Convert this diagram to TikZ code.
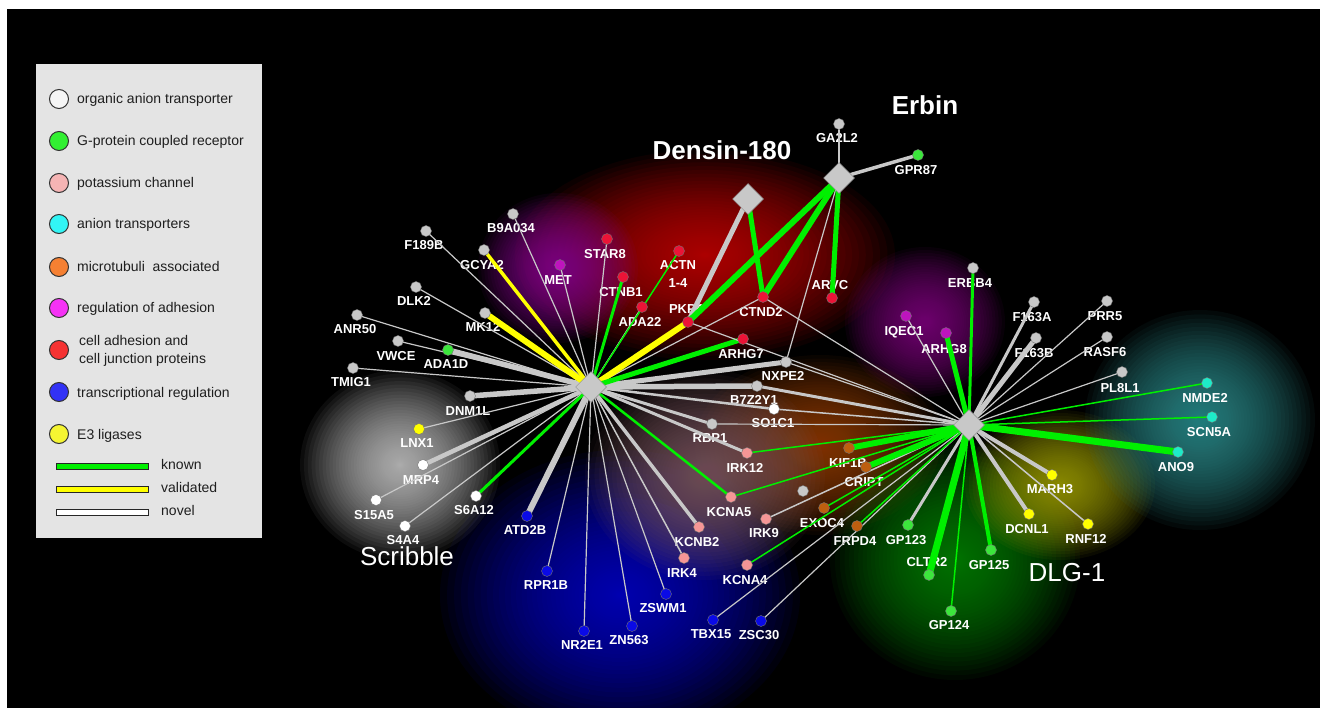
\documentclass[tikz,border=0pt]{standalone}
\usepackage{fontspec}
\setmainfont{Liberation Sans}
\usetikzlibrary{shapes.geometric}
\pgfdeclarelayer{glowlayer}
\pgfdeclarelayer{lablayer}
\pgfdeclarelayer{edgelayer}
\pgfsetlayers{glowlayer,lablayer,edgelayer,main}
\definecolor{ngray}{RGB}{200,200,200}
\definecolor{nred}{RGB}{235,20,55}
\definecolor{npurple}{RGB}{190,20,190}
\definecolor{npink}{RGB}{245,150,150}
\definecolor{nblue}{RGB}{10,10,230}
\definecolor{nyellow}{RGB}{255,255,0}
\definecolor{ngreen}{RGB}{60,230,60}
\definecolor{norange}{RGB}{190,95,15}
\definecolor{ncyan}{RGB}{30,235,200}
\definecolor{egreen}{RGB}{0,240,0}
\definecolor{eyellow}{RGB}{255,255,0}
\definecolor{egray}{RGB}{200,200,200}
\definecolor{leggray}{RGB}{228,228,228}
\definecolor{legtext}{RGB}{30,30,30}
\definecolor{lwhite}{RGB}{245,245,245}
\definecolor{lgreen}{RGB}{50,240,50}
\definecolor{lpink}{RGB}{245,180,180}
\definecolor{lcyan}{RGB}{50,245,245}
\definecolor{lorange}{RGB}{245,128,50}
\definecolor{lmagenta}{RGB}{245,50,245}
\definecolor{lred}{RGB}{245,50,50}
\definecolor{lblue}{RGB}{50,50,245}
\definecolor{lyellow}{RGB}{245,245,50}
\definecolor{g1}{RGB}{0,0,190}
\definecolor{g2}{RGB}{185,0,0}
\definecolor{g3}{RGB}{130,0,140}
\definecolor{g4}{RGB}{120,0,120}
\definecolor{g5}{RGB}{140,60,0}
\definecolor{g6}{RGB}{120,85,95}
\definecolor{g7}{RGB}{185,185,185}
\definecolor{g8}{RGB}{0,125,0}
\definecolor{g9}{RGB}{150,150,0}
\definecolor{g10}{RGB}{45,135,135}
\newcommand\glowat[5]{\foreach \k in {1,...,50}{\fill[#1,fill opacity=0.065] (#2,#3) ellipse [x radius={#4pt*(\k/50)^2}, y radius={#5pt*(\k/50)^2}];}}
\begin{document}
\begin{tikzpicture}[x=1pt,y=-1pt,
  gn/.style={circle,fill=#1,draw=black!55,line width=0.4pt,minimum size=11pt,inner sep=0pt},
  lbl/.style={text=white,font=\bfseries\fontsize{13}{13}\selectfont,inner sep=0pt,text height=9.3pt,text depth=0pt},
  big/.style={text=white,font=\fontsize{26}{26}\selectfont,inner sep=0pt,text height=18.6pt,text depth=0pt},
  hub/.style={diamond,fill=ngray,draw=black!45,line width=0.5pt,minimum width=31pt,minimum height=31pt,inner sep=0pt},
  gE/.style={draw=egray,line width=#1},
  kE/.style={draw=egreen,line width=#1},
  vE/.style={draw=eyellow,line width=#1},
  lc/.style={circle,fill=#1,draw=black!80,line width=1pt,minimum size=19pt,inner sep=0pt},
  lt/.style={text=legtext,font=\fontsize{14}{14}\selectfont,inner sep=0pt,anchor=base west},
  lbar/.style={fill=#1,draw=black!85,line width=0.8pt}]
\useasboundingbox (0,0) rectangle (1322,708);
\begin{pgfonlayer}{glowlayer}
\fill[white] (0,0) rectangle (1322,708);
\fill[black] (7,9) rectangle (1320,708);
\begin{scope}
\clip (7,9) rectangle (1320,708);
\glowat{g1}{620}{595}{180}{145}
\glowat{g2}{705}{255}{190}{105}
\glowat{g3}{558}{268}{80}{75}
\glowat{g4}{925}{322}{80}{75}
\glowat{g5}{820}{445}{125}{90}
\glowat{g6}{705}{475}{120}{105}
\glowat{g7}{400}{465}{100}{95}
\glowat{g8}{955}{560}{125}{120}
\glowat{g9}{1060}{485}{95}{75}
\glowat{g10}{1200}{420}{115}{110}
\end{scope}
\end{pgfonlayer}

% legend
\fill[leggray] (36,64) rectangle (262,538);
\node[lc=lwhite] (L1) at (59,99) {};   \node[lt] at (77,104) {organic anion transporter};
\node[lc=lgreen] (L2) at (59,141) {};  \node[lt] at (77,146) {G-protein coupled receptor};
\node[lc=lpink] (L3) at (59,183) {};   \node[lt] at (77,188) {potassium channel};
\node[lc=lcyan] (L4) at (59,224) {};   \node[lt] at (77,229) {anion transporters};
\node[lc=lorange] (L5) at (59,267) {}; \node[lt] at (77,272) {microtubuli\ \ associated};
\node[lc=lmagenta] (L6) at (59,308) {};\node[lt] at (77,313) {regulation of adhesion};
\node[lc=lred] (L7) at (59,350) {};    \node[lt] at (79,345) {cell adhesion and};
                                        \node[lt] at (79,363) {cell junction proteins};
\node[lc=lblue] (L8) at (59,392) {};   \node[lt] at (77,397) {transcriptional regulation};
\node[lc=lyellow] (L9) at (59,434) {}; \node[lt] at (77,439) {E3 ligases};
\filldraw[lbar=egreen] (56,463) rectangle (148,469); \node[lt] at (161,469) {known};
\filldraw[lbar=eyellow] (56,486) rectangle (148,492); \node[lt] at (161,492) {validated};
\filldraw[lbar=white] (56,509) rectangle (148,515); \node[lt] at (161,515) {novel};

% hubs
\node[hub] (S) at (591,387) {};
\node[hub] (D) at (969,425) {};
\node[hub] (Dn) at (748,199) {};
\node[hub] (E) at (839,178) {};
\node[big] (Sl) at (407,556) {Scribble};
\node[big] (Dl) at (1067,572) {DLG-1};
\node[big,font=\bfseries\fontsize{26}{26}\selectfont] (Dnl) at (722,150) {Densin-180};
\node[big,font=\bfseries\fontsize{26}{26}\selectfont] (El) at (925,105) {Erbin};

% genes
\foreach \n/\x/\y/\c/\lx/\ly/\t in {
 B9A034/513/214/ngray/511/228/B9A034,
 F189B/426/231/ngray/424/245/F189B,
 GCYA2/484/250/ngray/482/265/GCYA2,
 MET/560/265/npurple/558/280/MET,
 STAR8/607/239/nred/605/254/STAR8,
 CTNB1/623/277/nred/621/292/CTNB1,
 ACTN/679/251/nred/678/265/ACTN,
 ADA22/642/307/nred/640/322/ADA22,
 PKP4/688/322/nred/686/309/PKP4,
 CTND2/763/297/nred/761/312/CTND2,
 ARVC/832/298/nred/830/285/ARVC,
 ARHG7/743/339/nred/741/354/ARHG7,
 GA2L2/839/124/ngray/837/138/GA2L2,
 GPR87/918/155/ngreen/916/170/GPR87,
 NXPE2/786/362/ngray/783/376/NXPE2,
 B7Z2Y1/757/386/ngray/754/400/B7Z2Y1,
 SO1C1/774/409/white/773/423/SO1C1,
 RBP1/712/424/ngray/710/438/RBP1,
 IRK12/747/453/npink/745/468/IRK12,
 KCNA5/731/497/npink/729/512/KCNA5,
 KIF1B/849/448/norange/848/463/KIF1B,
 CRIPT/866/467/norange/864/482/CRIPT,
 EXOC4/824/508/norange/822/523/EXOC4,
 FRPD4/857/526/norange/855/541/FRPD4,
 IRK9/766/519/npink/764/533/IRK9,
 KCNA4/747/565/npink/745/580/KCNA4,
 KCNB2/699/527/npink/697/542/KCNB2,
 IRK4/684/558/npink/682/573/IRK4,
 ZSWM1/666/594/nblue/663/608/ZSWM1,
 ZN563/632/626/nblue/629/640/ZN563,
 TBX15/713/620/nblue/711/634/TBX15,
 ZSC30/761/621/nblue/759/635/ZSC30,
 NR2E1/584/631/nblue/582/645/NR2E1,
 RPR1B/547/571/nblue/546/585/RPR1B,
 ATD2B/527/516/nblue/525/530/ATD2B,
 S6A12/476/496/white/474/510/S6A12,
 S4A4/405/526/white/403/540/S4A4,
 S15A5/376/500/white/374/515/S15A5,
 MRP4/423/465/white/421/480/MRP4,
 LNX1/419/429/nyellow/417/443/LNX1,
 DNM1L/470/396/ngray/468/411/DNM1L,
 TMIG1/353/368/ngray/351/382/TMIG1,
 VWCE/398/341/ngray/396/356/VWCE,
 ADA1D/448/350/ngreen/446/364/ADA1D,
 ANR50/357/315/ngray/355/329/ANR50,
 DLK2/416/287/ngray/414/301/DLK2,
 MK12/485/313/ngray/483/327/MK12,
 ERBB4/973/268/ngray/970/283/ERBB4,
 IQEC1/906/316/npurple/904/331/IQEC1,
 ARHG8/946/333/npurple/944/349/ARHG8,
 F163A/1034/302/ngray/1032/317/F163A,
 F163B/1036/338/ngray/1034/353/F163B,
 PRR5/1107/301/ngray/1105/316/PRR5,
 RASF6/1107/337/ngray/1105/352/RASF6,
 PL8L1/1122/372/ngray/1120/388/PL8L1,
 NMDE2/1207/383/ncyan/1205/398/NMDE2,
 SCN5A/1212/417/ncyan/1209/432/SCN5A,
 ANO9/1178/452/ncyan/1176/467/ANO9,
 MARH3/1052/475/nyellow/1050/489/MARH3,
 DCNL1/1029/514/nyellow/1027/529/DCNL1,
 RNF12/1088/524/nyellow/1086/539/RNF12,
 GP125/991/550/ngreen/989/565/GP125,
 GP124/951/611/ngreen/949/625/GP124,
 CLTR2/929/575/ngreen/927/562/CLTR2,
 GP123/908/525/ngreen/906/540/GP123}
 {\node[gn=\c] (\n) at (\x,\y) {};
  \begin{pgfonlayer}{lablayer}\node[lbl] (\n-l) at (\lx,\ly) {\t};\end{pgfonlayer}}
\begin{pgfonlayer}{lablayer}\node[lbl] (ACTN-l2) at (678,283) {1-4};\end{pgfonlayer}
\node[gn=ngray] (X1) at (803,491) {};

\begin{pgfonlayer}{edgelayer}
% Scribble
\foreach \n/\w in {B9A034/1.2,F189B/1.2,MET/1.2,STAR8/1.2,ADA22/1.5,CTND2/1.2,NXPE2/5,B7Z2Y1/5.5,SO1C1/2.5,RBP1/3,IRK12/3,KCNB2/3.5,IRK4/1.5,ZSWM1/1.2,ZN563/1.2,NR2E1/1.2,RPR1B/1.2,ATD2B/6,S4A4/1.2,S15A5/1.2,MRP4/4.5,LNX1/1.2,DNM1L/5.5,TMIG1/1.2,VWCE/1.2,ADA1D/5.5,ANR50/1.2,DLK2/1.2}
  \draw[gE=\w] (S.center) -- (\n.center);
\foreach \n/\w in {GCYA2/3.5,PKP4/6,MK12/6}
  \draw[vE=\w] (S.center) -- (\n.center);
\foreach \n/\w in {CTNB1/3,ACTN/1.5,ARHG7/5,KCNA5/2.5,S6A12/3}
  \draw[kE=\w] (S.center) -- (\n.center);
% DLG-1
\foreach \n/\w in {IQEC1/1.2,F163A/3,F163B/5,PRR5/1.2,RASF6/1.2,PL8L1/1.2,MARH3/4,DCNL1/4,RNF12/1.5,GP123/3,IRK9/1.5,ZSC30/1.2,TBX15/1.2,RBP1/1.2,SO1C1/1.5,B7Z2Y1/3,NXPE2/1.2,CTND2/1.2,PKP4/1.2}
  \draw[gE=\w] (D.center) -- (\n.center);
\foreach \n/\w in {ERBB4/3,ARHG8/5,NMDE2/1.5,SCN5A/1.5,ANO9/7,GP125/4,GP124/1.5,CLTR2/7,FRPD4/1.5,EXOC4/1.5,CRIPT/6,KIF1B/6,KCNA4/1.5,KCNA5/1.5,IRK12/1.5}
  \draw[kE=\w] (D.center) -- (\n.center);
% Erbin and Densin-180
\draw[gE=1.5] (E.center) -- (GA2L2.center);
\draw[gE=3.5] (E.center) -- (GPR87.center);
\draw[gE=1.2] (E.center) -- (NXPE2.center);
\draw[gE=5] (Dn.center) -- (PKP4.center);
\draw[kE=5] (Dn.center) -- (CTND2.center);
\draw[kE=6] (E.center) -- (PKP4.center);
\draw[kE=6] (E.center) -- (CTND2.center);
\draw[kE=5] (E.center) -- (ARVC.center);
\end{pgfonlayer}
\end{tikzpicture}
\end{document}
